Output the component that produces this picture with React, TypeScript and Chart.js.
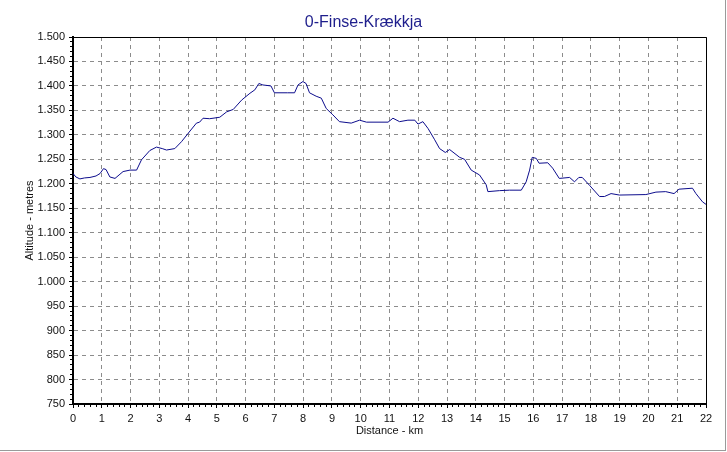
import { useEffect, useRef } from 'react';
import { Chart, ChartConfiguration, Plugin, registerables } from 'chart.js';

Chart.register(...registerables);

// Profile: distance in km, altitude in metres
const distanceKm = [
  0, 0.1, 0.24, 0.4, 0.59, 0.8, 0.94, 1.06, 1.15, 1.28, 1.46, 1.6, 1.74, 1.98, 2.21, 2.38, 2.67, 2.9, 3.1,
  3.25, 3.54, 3.77, 4.0, 4.29, 4.4, 4.52, 4.75, 5.1, 5.34, 5.57, 5.86, 6.15, 6.32, 6.46, 6.6, 6.88, 7.0,
  7.45, 7.7, 7.82, 7.99, 8.1, 8.22, 8.45, 8.63, 8.8, 9.03, 9.26, 9.67, 9.96, 10.2, 10.95, 11.12, 11.35,
  11.64, 11.88, 11.99, 12.16, 12.34, 12.57, 12.74, 12.94, 13.09, 13.44, 13.61, 13.84, 14.13, 14.36, 14.42,
  14.82, 15.17, 15.58, 15.75, 15.87, 15.96, 16.1, 16.2, 16.5, 16.67, 16.9, 17.26, 17.43, 17.58, 17.7,
  17.95, 18.3, 18.47, 18.7, 18.99, 19.91, 20.26, 20.6, 20.89, 21.06, 21.53, 21.65, 21.88, 22.0,
];
const altitudeM = [
  1221, 1214, 1210, 1212, 1213, 1216, 1221, 1231, 1229, 1214, 1211, 1218, 1225, 1228, 1228, 1249, 1268, 1275, 1272,
  1269, 1272, 1286, 1303, 1324, 1326, 1334, 1333, 1336, 1347, 1352, 1371, 1385, 1392, 1405, 1402, 1400, 1386,
  1386, 1386, 1402, 1409, 1405, 1386, 1379, 1375, 1354, 1341, 1327, 1324, 1330, 1326, 1326, 1334, 1327,
  1330, 1330, 1322, 1327, 1313, 1290, 1272, 1264, 1270, 1254, 1250, 1228, 1218, 1198, 1184,
  1186, 1187, 1187, 1204, 1228, 1254, 1252, 1242, 1243, 1232, 1211, 1213, 1204, 1213, 1213,
  1197, 1174, 1174, 1180, 1177, 1178, 1183, 1184, 1180, 1189, 1191, 1180, 1163, 1158,
];

const altitudeMin = 750;
const altitudeMax = 1500;
const distanceMax = 22;

const FONT = "'Liberation Sans', Arial, sans-serif";

// "1.500" style thousands separator
const fmtAltitude = (v: number) =>
  v >= 1000 ? `${Math.floor(v / 1000)}.${String(v % 1000).padStart(3, '0')}` : String(v);

// thin frame on the top and right edges of the plot
const framePlugin: Plugin = {
  id: 'frame',
  afterDraw(chart) {
    const { ctx, chartArea } = chart;
    ctx.save();
    ctx.strokeStyle = '#000';
    ctx.lineWidth = 1;
    ctx.beginPath();
    ctx.moveTo(chartArea.left, chartArea.top + 0.5);
    ctx.lineTo(chartArea.right + 0.5, chartArea.top + 0.5);
    ctx.lineTo(chartArea.right + 0.5, chartArea.bottom);
    ctx.stroke();
    ctx.restore();
  },
};

export default function App() {
  const canvasRef = useRef<HTMLCanvasElement>(null);
  const chartRef = useRef<Chart | null>(null);

  useEffect(() => {
    if (!canvasRef.current) return;
    if (chartRef.current) chartRef.current.destroy();
    const ctx = canvasRef.current.getContext('2d');
    if (!ctx) return;

    const config: ChartConfiguration<'line'> = {
      type: 'line',
      data: {
        datasets: [
          {
            label: 'Altitude',
            data: distanceKm.map((d, i) => ({ x: d, y: altitudeM[i] })),
            borderColor: '#0c0c8c',
            borderWidth: 1,
            pointRadius: 0,
            tension: 0,
            fill: false,
          },
        ],
      },
      options: {
        animation: false,
        responsive: true,
        maintainAspectRatio: false,
        layout: { padding: 0 },
        plugins: {
          legend: { display: false },
          tooltip: { enabled: false },
          title: {
            display: true,
            text: '0-Finse-Krækkja',
            color: '#1e1e8c',
            font: { family: FONT, size: 16, weight: 'normal' },
            padding: { top: 13, bottom: 4.8 },
          },
        },
        scales: {
          x: {
            type: 'linear',
            position: 'bottom',
            weight: 1,
            min: 0,
            max: distanceMax,
            afterFit: (s) => {
              s.height = 48;
            },
            ticks: {
              stepSize: 1,
              autoSkip: false,
              maxRotation: 0,
              padding: 4,
              color: '#111',
              font: { family: FONT, size: 11 },
            },
            grid: {
              color: '#8c8c8c',
              tickColor: '#000',
              tickLength: 4,
              tickBorderDash: [],
            },
            border: { color: '#000', width: 2, dash: [4, 4] },
            title: {
              display: true,
              text: 'Distance - km',
              color: '#111',
              font: { family: FONT, size: 11 },
              padding: { top: 0, bottom: 14.4 },
            },
          },
          xMinor: {
            type: 'linear',
            position: 'bottom',
            weight: 0,
            min: 0,
            max: distanceMax,
            afterFit: (s) => {
              s.height = 0;
            },
            ticks: { display: false, stepSize: 0.2 },
            grid: { drawOnChartArea: false, tickColor: '#000', tickLength: 3, tickBorderDash: [] },
            border: { display: false },
          },
          y: {
            type: 'linear',
            position: 'left',
            weight: 1,
            min: altitudeMin,
            max: altitudeMax,
            afterFit: (s) => {
              s.width = 73;
            },
            ticks: {
              stepSize: 50,
              padding: 4,
              color: '#111',
              font: { family: FONT, size: 11 },
              callback: (v) => fmtAltitude(Number(v)),
            },
            grid: {
              color: '#8c8c8c',
              tickColor: '#000',
              tickLength: 4,
              tickBorderDash: [],
            },
            border: { color: '#000', width: 2, dash: [4, 4] },
            title: {
              display: true,
              text: 'Altitude - metres',
              color: '#111',
              font: { family: FONT, size: 11 },
              padding: { top: 23.4, bottom: 0 },
            },
          },
          yMinor: {
            type: 'linear',
            position: 'left',
            weight: 0,
            min: altitudeMin,
            max: altitudeMax,
            afterFit: (s) => {
              s.width = 0;
            },
            ticks: { display: false, stepSize: 10 },
            grid: { drawOnChartArea: false, tickColor: '#000', tickLength: 3, tickBorderDash: [] },
            border: { display: false },
          },
          // empty right-hand gutter so the title stays centred on the whole window
          yGutter: {
            type: 'linear',
            position: 'right',
            afterFit: (s) => {
              s.width = 21;
            },
            ticks: { display: false },
            grid: { display: false },
            border: { display: false },
          },
        },
      },
      plugins: [framePlugin],
    };

    chartRef.current = new Chart(ctx, config);

    return () => {
      if (chartRef.current) {
        chartRef.current.destroy();
        chartRef.current = null;
      }
    };
  }, []);

  return (
    <div style={{ position: 'absolute', left: 0, top: 0, width: '727px', height: '452px', background: '#fff' }}>
      <canvas ref={canvasRef}></canvas>
      <div
        style={{
          position: 'absolute',
          left: 0,
          top: 0,
          width: '726px',
          height: '451px',
          boxSizing: 'border-box',
          borderRight: '1px solid #9a9a9a',
          borderBottom: '1px solid #9a9a9a',
          pointerEvents: 'none',
        }}
      />
    </div>
  );
}
